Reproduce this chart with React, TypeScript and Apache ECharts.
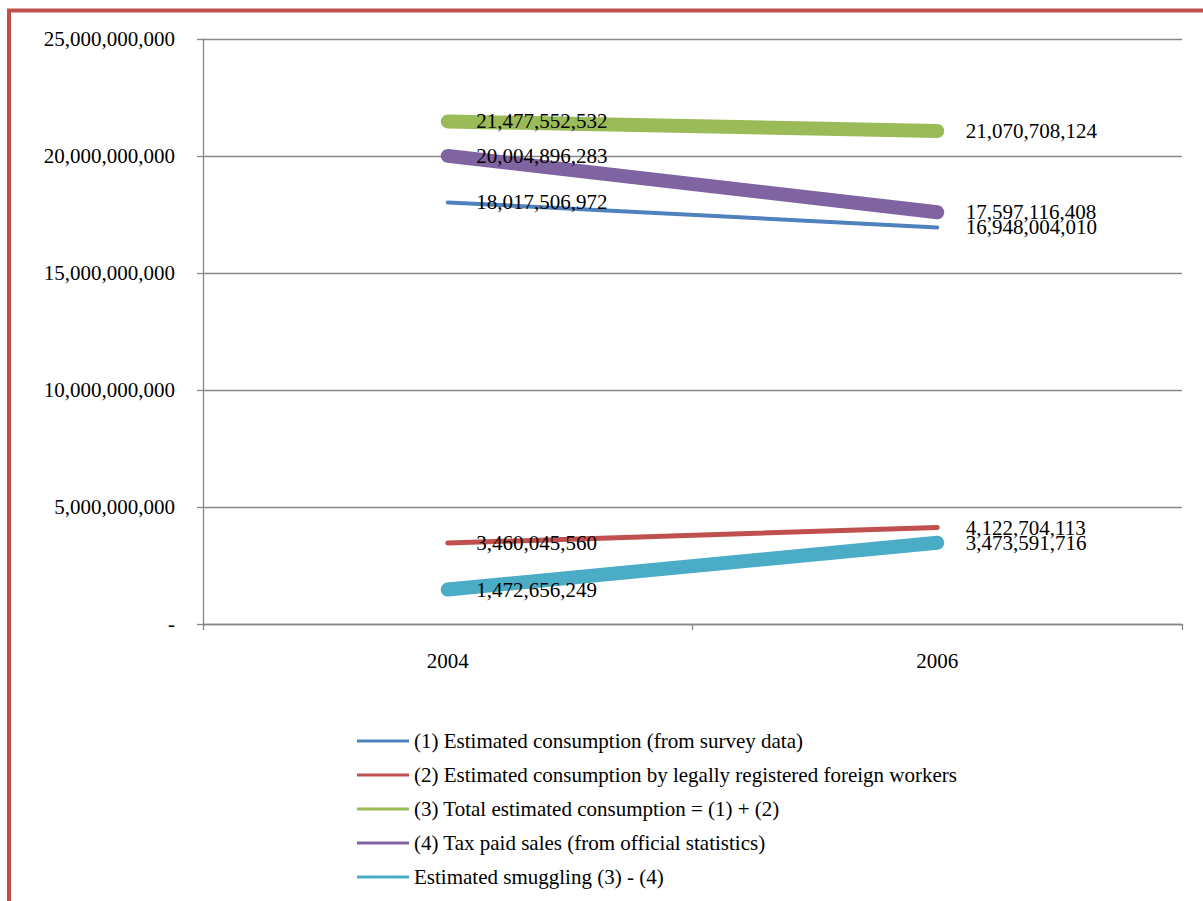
import React, { useEffect, useRef } from "react";
import * as echarts from "echarts";

const categories = ["2004", "2006"];
const seriesNames = [
  "(1) Estimated consumption (from survey data)",
  "(2) Estimated consumption by legally registered foreign workers",
  "(3) Total estimated consumption = (1) + (2)",
  "(4) Tax paid sales (from official statistics)",
  "Estimated smuggling (3) - (4)",
];
const surveyConsumption = [18017506972, 16948004010];
const foreignWorkers = [3460045560, 4122704113];
const totalConsumption = [21477552532, 21070708124];
const taxPaidSales = [20004896283, 17597116408];
const smuggling = [1472656249, 3473591716];
const seriesValues = [surveyConsumption, foreignWorkers, totalConsumption, taxPaidSales, smuggling];
const seriesColors = ["#4F81BD", "#C0504D", "#9BBB59", "#8064A2", "#4BACC6"];
const seriesWidths = [4, 5, 14, 14, 14];

const FONT = "'Liberation Serif', 'Times New Roman', serif";
const fmt = (v: number) => Math.round(v).toLocaleString("en-US");

export default function App() {
  const ref = useRef<HTMLDivElement>(null);
  useEffect(() => {
    if (!ref.current) return;
    const chart = echarts.init(ref.current, null, { renderer: "svg" });
    chart.setOption({
      animation: false,
      backgroundColor: "#ffffff",
      graphic: [
        {
          type: "rect",
          shape: { x: 9, y: 10.5, width: 1400, height: 1100 },
          style: { fill: "none", stroke: "#C0504D", lineWidth: 4 },
          silent: true,
          z: 100,
        },
      ],
      grid: { left: 203, right: 21, top: 39, bottom: 277, containLabel: false },
      legend: {
        orient: "vertical",
        left: 357,
        top: 729,
        padding: 0,
        itemWidth: 52,
        itemHeight: 3,
        itemGap: 10,
        icon: "rect",
        textStyle: { fontFamily: FONT, fontSize: 21, color: "#000", lineHeight: 24 },
        data: seriesNames,
      },
      xAxis: {
        type: "category",
        data: categories,
        boundaryGap: true,
        axisLine: { lineStyle: { color: "#888888", width: 1.3 } },
        axisTick: { show: true, length: 6, lineStyle: { color: "#888888", width: 1.3 } },
        axisLabel: { fontFamily: FONT, fontSize: 21, color: "#000", margin: 26 },
      },
      yAxis: {
        type: "value",
        min: 0,
        max: 25000000000,
        interval: 5000000000,
        axisLine: { show: true, lineStyle: { color: "#888888", width: 1.3 } },
        axisTick: { show: true, length: 6, lineStyle: { color: "#888888", width: 1.3 } },
        splitLine: { lineStyle: { color: "#888888", width: 1.3 } },
        axisLabel: {
          fontFamily: FONT,
          fontSize: 21,
          color: "#000",
          margin: 28,
          formatter: (v: number) => (v === 0 ? "-" : fmt(v)),
        },
      },
      series: seriesNames.map((name, i) => ({
        name,
        type: "line",
        data: seriesValues[i],
        color: seriesColors[i],
        symbol: "circle",
        symbolSize: 1,
        showSymbol: true,
        lineStyle: { width: seriesWidths[i], color: seriesColors[i], cap: "round" },
        itemStyle: { color: seriesColors[i] },
        label: {
          show: true,
          position: "right",
          distance: 28,
          fontFamily: FONT,
          fontSize: 21,
          color: "#000",
          formatter: (p: any) => fmt(p.value),
        },
        z: 2 + i,
      })),
    });
    return () => chart.dispose();
  }, []);
  return (
    <div
      ref={ref}
      style={{ position: "fixed", left: 0, top: 0, width: 1203, height: 901 }}
    />
  );
}
